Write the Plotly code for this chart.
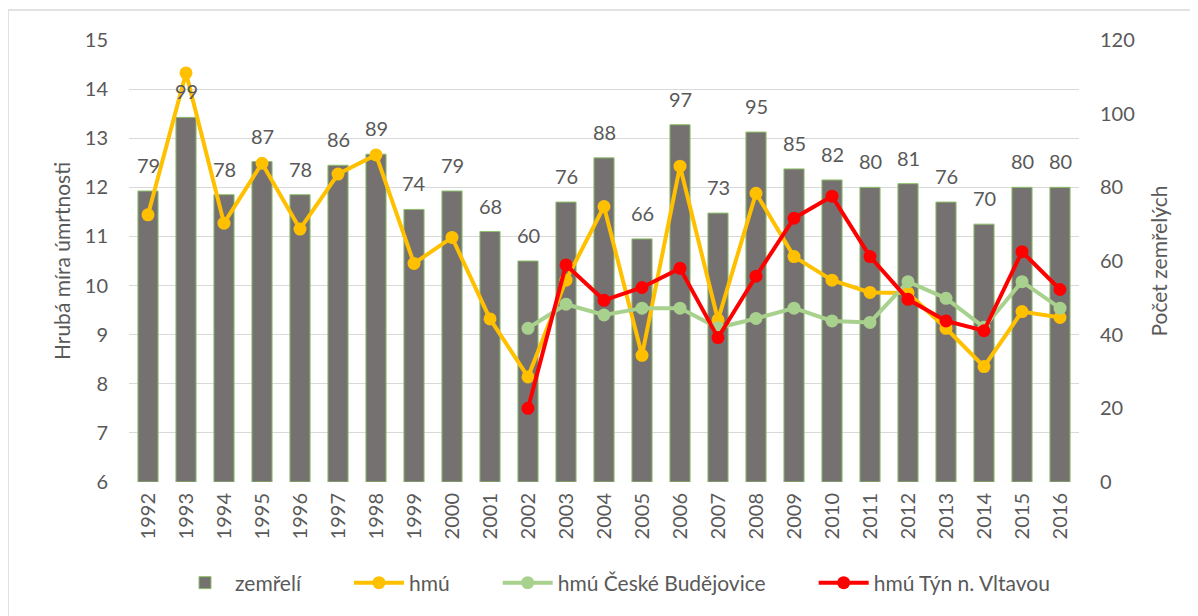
import plotly.graph_objects as go

years = [str(y) for y in range(1992, 2017)]
zemreli = [79, 99, 78, 87, 78, 86, 89, 74, 79, 68, 60, 76, 88, 66, 97, 73, 95, 85, 82, 80, 81, 76, 70, 80, 80]
hmu = [11.44, 14.33, 11.27, 12.49, 11.15, 12.27, 12.66, 10.45, 10.98, 9.32, 8.14, 10.11, 11.61, 8.58, 12.43,
       9.30, 11.88, 10.59, 10.11, 9.86, 9.85, 9.13, 8.35, 9.47, 9.35]
hmu_cb = [None] * 10 + [9.13, 9.62, 9.40, 9.54, 9.54, 9.14, 9.33, 9.54, 9.28, 9.25, 10.08, 9.74, 9.15, 10.08, 9.54]
hmu_tyn = [None] * 10 + [7.50, 10.42, 9.70, 9.96, 10.35, 8.94, 10.19, 11.37, 11.82, 10.59, 9.72, 9.28, 9.08, 10.69, 9.92]
series_names = ["zemřelí", "hmú", "hmú České Budějovice", "hmú Týn n. Vltavou"]

left_ticks = list(range(6, 16))
right_ticks = list(range(0, 121, 20))

FONT = "Lato"
TXT = "#595959"
GAP = "\u00a0" * 8  # spacing between legend entries

# page body margin offsets the plot div by 8px
OFF = 8
W, H = 1198, 616
L, T = 129 - OFF, 40 - OFF
R = W - (1079 - OFF)
B = H - (482 - OFF)
PW, PH = W - L - R, H - T - B

def px_x(p):
    return (p - OFF - L) / PW

def px_y(p):
    return (H - B - (p - OFF)) / PH

def legend_name(i):
    return series_names[i] + (GAP if i < len(series_names) - 1 else "")

fig = go.Figure()

fig.add_trace(go.Bar(
    x=years, y=zemreli, name=legend_name(0), yaxis="y",
    marker=dict(color="#767171", line=dict(color="#8CC168", width=1)),
))

fig.add_trace(go.Scatter(
    x=years, y=hmu, name=legend_name(1), yaxis="y2", mode="lines+markers",
    line=dict(color="#FFC000", width=4), marker=dict(size=13, color="#FFC000"),
))
fig.add_trace(go.Scatter(
    x=years, y=hmu_cb, name=legend_name(2), yaxis="y2", mode="lines+markers",
    line=dict(color="#A9D18E", width=4), marker=dict(size=13, color="#A9D18E"),
))
fig.add_trace(go.Scatter(
    x=years, y=hmu_tyn, name=legend_name(3), yaxis="y2", mode="lines+markers",
    line=dict(color="#FF0000", width=4), marker=dict(size=13, color="#FF0000"),
))

annotations = []
for i, v in enumerate(zemreli):
    annotations.append(dict(
        x=i, y=v, xref="x", yref="y", text=str(v), showarrow=False,
        yanchor="bottom", yshift=12, font=dict(family=FONT, size=20, color=TXT),
    ))

fig.update_layout(
    width=W, height=H,
    margin=dict(l=L, r=R, t=T, b=B),
    paper_bgcolor="white", plot_bgcolor="white",
    font=dict(family=FONT, color=TXT),
    bargap=0.47,
    showlegend=True,
    legend=dict(orientation="h", x=px_x(615), xanchor="center", y=px_y(583), yanchor="middle",
                font=dict(family=FONT, size=21, color=TXT), itemwidth=50,
                traceorder="normal"),
    xaxis=dict(type="category", categoryorder="array", categoryarray=years,
               range=[-0.5, len(years) - 0.5], autorange=False,
               tickangle=-90, tickfont=dict(size=20, color=TXT),
               showgrid=False, showline=False, ticks="", ticklabelstandoff=6),
    yaxis=dict(side="right", range=[0, 120], tickvals=right_ticks, showgrid=False,
               zeroline=False, tickfont=dict(size=20, color=TXT), ticks="",
               ticklabelstandoff=20,
               title=dict(text="Počet zemřelých", font=dict(size=21, color=TXT), standoff=18)),
    yaxis2=dict(overlaying="y", side="left", range=[6, 15], tickvals=left_ticks,
                showgrid=True, gridcolor="#D9D9D9", gridwidth=1, zeroline=False,
                tickfont=dict(size=20, color=TXT), ticks="", ticklabelstandoff=20,
                title=dict(text="Hrubá míra úmrtnosti", font=dict(size=21, color=TXT), standoff=8)),
    annotations=annotations,
    shapes=[dict(type="rect", xref="paper", yref="paper",
                 x0=px_x(8), x1=px_x(1210), y0=px_y(630), y1=px_y(10),
                 line=dict(color="#D9D9D9", width=1.5), layer="below")],
)

fig.write_html("out.html")
